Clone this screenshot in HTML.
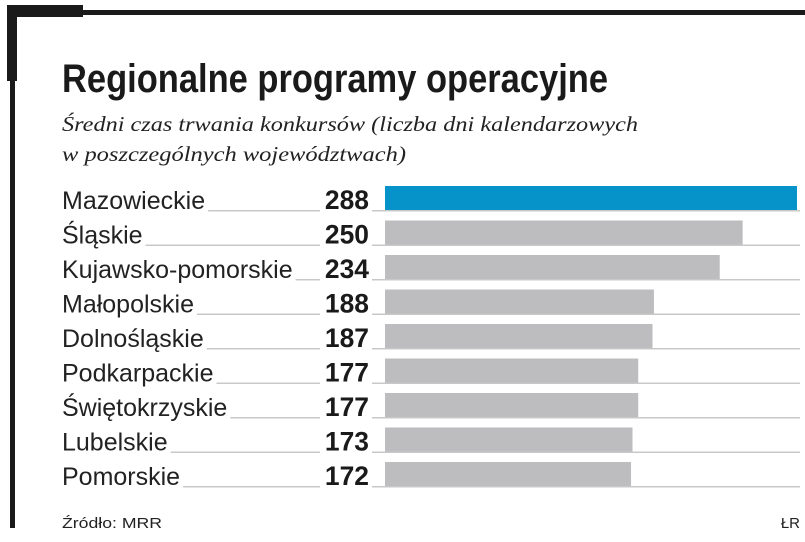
<!DOCTYPE html>
<html><head><meta charset="utf-8">
<style>
html,body{margin:0;padding:0;background:#fff;}
svg{display:block;}
</style></head>
<body>
<svg id="chart" width="805" height="542" viewBox="0 0 805 542" xmlns="http://www.w3.org/2000/svg">
  <rect x="0" y="0" width="805" height="542" fill="#fff"/>
  <rect x="16" y="10" width="789" height="5" fill="#1a1a1a"/>
  <rect x="7" y="5" width="76" height="12" fill="#1a1a1a"/>
  <rect x="7" y="5" width="10" height="76" fill="#1a1a1a"/>
  <rect x="10" y="70" width="5" height="458" fill="#1a1a1a"/>
  <text x="62" y="92" font-family="'Liberation Sans',sans-serif" font-weight="bold" font-size="40" fill="#1a1a1a" textLength="546" lengthAdjust="spacingAndGlyphs">Regionalne programy operacyjne</text>
  <text x="62" y="131" font-family="'Liberation Serif',serif" font-style="italic" font-size="21" fill="#222" textLength="576" lengthAdjust="spacingAndGlyphs">Średni czas trwania konkursów (liczba dni kalendarzowych</text>
  <text x="62" y="161" font-family="'Liberation Serif',serif" font-style="italic" font-size="21" fill="#222" textLength="344" lengthAdjust="spacingAndGlyphs">w poszczególnych województwach)</text>
  <g id="bars"></g>
  <text x="62" y="528" font-family="'Liberation Sans',sans-serif" font-size="15" fill="#222" textLength="100" lengthAdjust="spacingAndGlyphs">Źródło: MRR</text>
  <text x="800" y="528" text-anchor="end" font-family="'Liberation Sans',sans-serif" font-size="15" fill="#222">ŁR</text>
</svg>
<script>
const categories = ["Mazowieckie","Śląskie","Kujawsko-pomorskie","Małopolskie","Dolnośląskie","Podkarpackie","Świętokrzyskie","Lubelskie","Pomorskie"];
const values = [288,250,234,188,187,177,177,173,172];
const highlight = [true,false,false,false,false,false,false,false,false];

const NS = "http://www.w3.org/2000/svg";
const g = document.getElementById('bars');
const x0 = 385, xMax = 797, maxV = 288;
const xScale = v => x0 + (v / maxV) * (xMax - x0);
const rowTop = i => 186 + i * 34.5;
const barH = 24;

function mk(tag, attrs){const e=document.createElementNS(NS,tag);for(const k in attrs)e.setAttribute(k,attrs[k]);g.appendChild(e);return e;}

categories.forEach((c,i)=>{
  const y = rowTop(i);
  const base = y + barH;
  const lab = mk('text',{x:62,y:base-1,'font-family':"'Liberation Sans',sans-serif",'font-size':25,fill:'#222'});
  lab.textContent = c;
  
  
  const w = lab.getComputedTextLength();
  const l1 = mk('rect',{x:62+w+3,y:base,width:Math.max(0,320-(62+w+3)),height:1.5,fill:'#c8c8c8'});
  
  
  const l2 = mk('rect',{x:372,y:base,width:428,height:1.5,fill:'#c8c8c8'});
  
  
  const s = String(values[i]);
  const tl = 14.7 * s.length;
  const val = mk('text',{x:369-tl,y:base-1,'font-family':"'Liberation Sans',sans-serif",'font-weight':'bold','font-size':27,fill:'#1a1a1a',textLength:tl,lengthAdjust:'spacingAndGlyphs'});
  val.textContent = s;
  
  
  const b = mk('rect',{x:x0,y:y,width:xScale(values[i])-x0,height:barH,fill:highlight[i]?'#0693c9':'#bdbdbf'});
  
  
});
</script>
</body></html>
